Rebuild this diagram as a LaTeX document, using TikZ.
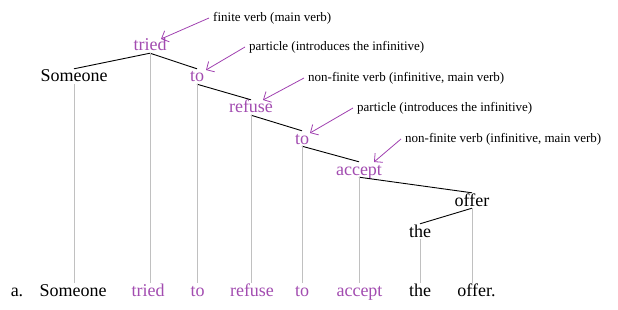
\documentclass[tikz,border=0pt]{standalone}
\usepackage{fontspec}
\setmainfont{Liberation Serif}
\usetikzlibrary{arrows.meta}
\definecolor{verbpurple}{HTML}{A24CB0}
\definecolor{notepurple}{HTML}{A040B0}
\definecolor{projgrey}{HTML}{C0C0C0}

\tikzset{
  word/.style={font=\fontsize{18}{20}\selectfont, inner sep=1pt,
    text height=12pt, text depth=1pt, anchor=base},
  verb/.style={word, text=verbpurple},
  note/.style={font=\fontsize{13}{15}\selectfont, inner sep=0pt, anchor=west},
  dep/.style={black, line width=0.9pt},
  proj/.style={projgrey, line width=0.9pt},
  pointer/.style={notepurple, line width=0.8pt,
    -{Straight Barb[length=6pt, width=12pt]}}
}

\begin{document}
\begin{tikzpicture}[x=1pt, y=-1pt]
  \useasboundingbox (0,0) rectangle (618,310);

  % Tree
  \node[verb] (tried)   at (150,51)  {tried};
  \node[word] (someone) at (74,82)   {Someone};
  \node[verb] (toA)     at (197,82)  {to};
  \node[verb] (refuse)  at (251,113) {refuse};
  \node[verb] (toB)     at (302,144) {to};
  \node[verb] (accept)  at (359,175) {accept};
  \node[word] (offer)   at (472,206) {offer};
  \node[word] (the)     at (420,237) {the};

  % Sentence
  \node[word] (la)       at (17,296)    {a.};
  \node[word] (wsomeone) at (73,296)    {Someone};
  \node[verb] (wtried)   at (148,296)   {tried};
  \node[verb] (wtoA)     at (197.5,296) {to};
  \node[verb] (wrefuse)  at (252,296)   {refuse};
  \node[verb] (wtoB)     at (302,296)   {to};
  \node[verb] (waccept)  at (359.5,296) {accept};
  \node[word] (wthe)     at (420,296)   {the};
  \node[word] (woffer)   at (476.5,296) {offer.};

  % Dependencies
  \draw[dep] (tried.south) -- (someone.north);
  \draw[dep] (tried.south) -- (toA.north);
  \draw[dep] (toA.south) -- (refuse.north);
  \draw[dep] (refuse.south) -- (toB.north);
  \draw[dep] (toB.south) -- (accept.north);
  \draw[dep] (accept.south) -- (offer.north);
  \draw[dep] (offer.south) -- (the.north);

  % Projection lines
  \foreach \n/\w in {someone/wsomeone, tried/wtried, toA/wtoA, refuse/wrefuse,
                     toB/wtoB, accept/waccept, the/wthe, offer/woffer}
    \draw[proj] (\n.south) -- (\n.south |- \w.north);

  % Annotations
  \node[note] (nfinite)  at (213,18)  {finite verb (main verb)};
  \node[note] (npartA)   at (249,47)  {particle (introduces the infinitive)};
  \node[note] (ninfA)    at (308,78)  {non-finite verb (infinitive, main verb)};
  \node[note] (npartB)   at (357,108) {particle (introduces the infinitive)};
  \node[note] (ninfB)    at (405,139) {non-finite verb (infinitive, main verb)};

  \coordinate (tipfinite) at (161,39);
  \coordinate (tippartA)  at (206,70);
  \coordinate (tipinfA)   at (263,100);
  \coordinate (tippartB)  at (310,133);
  \coordinate (tipinfB)   at (374,162);

  \draw[pointer] ([xshift=-4pt]nfinite.west) -- (tipfinite);
  \draw[pointer] ([xshift=-4pt]npartA.west) -- (tippartA);
  \draw[pointer] ([xshift=-4pt]ninfA.west) -- (tipinfA);
  \draw[pointer] ([xshift=-4pt]npartB.west) -- (tippartB);
  \draw[pointer] ([xshift=-4pt]ninfB.west) -- (tipinfB);
\end{tikzpicture}
\end{document}
